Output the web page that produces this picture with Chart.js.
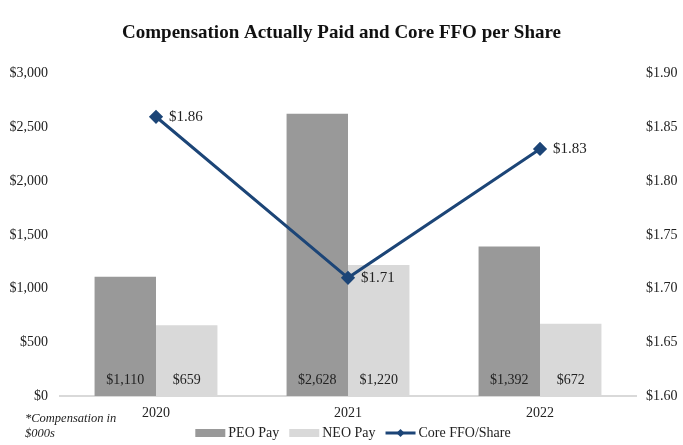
<!DOCTYPE html>
<html>
<head>
<meta charset="utf-8">
<script src="https://cdn.jsdelivr.net/npm/chart.js@4/dist/chart.umd.min.js"></script>
<style>
  html, body { margin: 0; padding: 0; background: #fff; }
  #wrap { width: 683px; height: 445px; }
</style>
</head>
<body>
<div id="wrap"><canvas id="capChart"></canvas></div>
<script>
const years = ['2020', '2021', '2022'];
const peoPay = [1110, 2628, 1392];
const neoPay = [659, 1220, 672];
const coreFfo = [1.86, 1.71, 1.83];

const SERIF = '"Liberation Serif", "Times New Roman", serif';

function money(v) {
  return '$' + v.toLocaleString('en-US');
}

// labels on bars / line points, plus a hand-drawn legend and footnote
const labelPlugin = {
  id: 'labelPlugin',
  afterDatasetsDraw(chart) {
    const ctx = chart.ctx;
    const area = chart.chartArea;
    ctx.save();
    ctx.fillStyle = '#222';
    ctx.textBaseline = 'middle';

    [0, 1].forEach((di) => {
      const meta = chart.getDatasetMeta(di);
      ctx.font = '14px ' + SERIF;
      ctx.textAlign = 'center';
      meta.data.forEach((bar, i) => {
        ctx.fillText(money(chart.data.datasets[di].data[i]), bar.x, area.bottom - 16);
      });
    });

    const lineMeta = chart.getDatasetMeta(2);
    ctx.font = '15px ' + SERIF;
    ctx.textAlign = 'left';
    lineMeta.data.forEach((pt, i) => {
      ctx.fillText('$' + coreFfo[i].toFixed(2), pt.x + 13, pt.y);
    });
    ctx.restore();
  },
  afterDraw(chart) {
    const ctx = chart.ctx;
    ctx.save();
    // footnote
    ctx.fillStyle = '#222';
    ctx.font = 'italic 12.5px ' + SERIF;
    ctx.textAlign = 'left';
    ctx.textBaseline = 'middle';
    ctx.fillText('*Compensation in', 25, 419);
    ctx.fillText('$000s', 25, 434);

    // legend
    const ds = chart.data.datasets;
    ctx.font = '14px ' + SERIF;
    const boxW = 30, gap = 3, itemGap = 10;
    let widths = ds.map(d => boxW + gap + ctx.measureText(d.label).width);
    let total = widths.reduce((a, b) => a + b, 0) + itemGap * (ds.length - 1);
    let x = 353 - total / 2;
    const y = 433;
    ds.forEach((d, i) => {
      if (d.type === 'line') {
        ctx.strokeStyle = d.borderColor;
        ctx.lineWidth = 3;
        ctx.beginPath();
        ctx.moveTo(x, y);
        ctx.lineTo(x + boxW, y);
        ctx.stroke();
        ctx.fillStyle = d.borderColor;
        ctx.beginPath();
        ctx.moveTo(x + boxW / 2, y - 4);
        ctx.lineTo(x + boxW / 2 + 4, y);
        ctx.lineTo(x + boxW / 2, y + 4);
        ctx.lineTo(x + boxW / 2 - 4, y);
        ctx.closePath();
        ctx.fill();
      } else {
        ctx.fillStyle = d.backgroundColor;
        ctx.fillRect(x, y - 4, boxW, 8);
      }
      ctx.fillStyle = '#222';
      ctx.fillText(d.label, x + boxW + gap, y);
      x += widths[i] + itemGap;
    });
    ctx.restore();
  }
};

new Chart(document.getElementById('capChart'), {
  type: 'bar',
  data: {
    labels: years,
    datasets: [
      {
        label: 'PEO Pay',
        data: peoPay,
        backgroundColor: '#999999',
        yAxisID: 'y',
        order: 2,
        categoryPercentage: 0.64,
        barPercentage: 1.0,
      },
      {
        label: 'NEO Pay',
        data: neoPay,
        backgroundColor: '#d9d9d9',
        yAxisID: 'y',
        order: 2,
        categoryPercentage: 0.64,
        barPercentage: 1.0,
      },
      {
        type: 'line',
        label: 'Core FFO/Share',
        data: coreFfo,
        borderColor: '#1c4577',
        backgroundColor: '#1c4577',
        borderWidth: 3,
        pointStyle: 'rectRot',
        pointRadius: 5,
        yAxisID: 'y1',
        order: 0,
      },
    ],
  },
  options: {
    responsive: true,
    maintainAspectRatio: false,
    animation: false,
    layout: { padding: { left: 0, right: 0, top: 0, bottom: 0 } },
    plugins: {
      legend: { display: false },
      tooltip: { enabled: false },
      title: {
        display: true,
        text: 'Compensation Actually Paid and Core FFO per Share',
        color: '#111',
        font: { family: SERIF, size: 19, weight: 'bold' },
        padding: { top: 22, bottom: 29 },
      },
    },
    scales: {
      x: {
        grid: { display: true, drawOnChartArea: false, drawTicks: false },
        border: { display: true, color: '#d9d9d9', width: 2 },
        ticks: { color: '#222', font: { family: SERIF, size: 14 }, padding: 9 },
        afterFit(scale) { scale.height = 49; },
      },
      y: {
        position: 'left',
        min: 0,
        max: 3000,
        grid: { display: false },
        border: { display: false },
        ticks: {
          stepSize: 500,
          color: '#222',
          padding: 4,
          font: { family: SERIF, size: 14 },
          callback: (v) => money(v),
        },
        afterFit(scale) { scale.width = 60; },
      },
      y1: {
        position: 'right',
        min: 1.6,
        max: 1.9,
        grid: { display: false },
        border: { display: false },
        ticks: {
          stepSize: 0.05,
          color: '#222',
          padding: 2,
          font: { family: SERIF, size: 14 },
          callback: (v) => '$' + v.toFixed(2),
        },
        afterFit(scale) { scale.width = 47; },
      },
    },
  },
  plugins: [labelPlugin],
});
</script>
</body>
</html>
